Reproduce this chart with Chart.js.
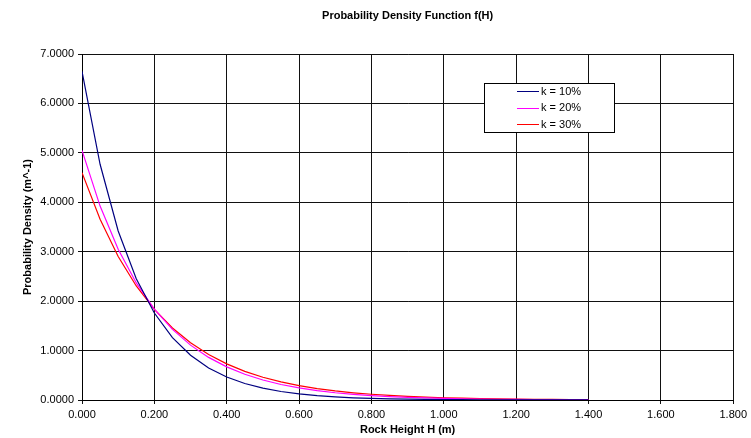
<!DOCTYPE html>
<html>
<head>
<meta charset="utf-8">
<script src="https://cdn.jsdelivr.net/npm/chart.js@4.4.1/dist/chart.umd.min.js"></script>
<style>
  html, body { margin: 0; padding: 0; background: #fff; }
  #wrap { width: 751px; height: 438px; position: relative; }
</style>
</head>
<body>
<div id="wrap"><canvas id="c" width="751" height="438"></canvas></div>
<script>
// Rock height H (m), sampled every 0.05 m
const heights = [0.00,0.05,0.10,0.15,0.20,0.25,0.30,0.35,0.40,0.45,0.50,0.55,0.60,0.65,0.70,
                 0.75,0.80,0.85,0.90,0.95,1.00,1.05,1.10,1.15,1.20,1.25,1.30,1.35,1.40];
// Probability density (m^-1)
const k10 = [6.650,4.769,3.420,2.453,1.759,1.261,0.905,0.649,0.465,0.334,0.239,0.172,0.123,0.088,0.063,
             0.045,0.033,0.023,0.017,0.012,0.009,0.006,0.004,0.003,0.002,0.0016,0.0012,0.0008,0.0006];
const k20 = [5.050,3.923,3.048,2.368,1.839,1.429,1.110,0.862,0.670,0.520,0.404,0.314,0.244,0.190,0.147,
             0.114,0.089,0.069,0.054,0.042,0.032,0.025,0.020,0.015,0.012,0.009,0.007,0.005,0.004];
const k30 = [4.600,3.655,2.904,2.307,1.833,1.457,1.157,0.920,0.731,0.580,0.461,0.366,0.291,0.231,0.184,
             0.146,0.116,0.092,0.073,0.058,0.046,0.037,0.029,0.023,0.018,0.015,0.012,0.009,0.007];
const seriesLabels = ['k = 10%', 'k = 20%', 'k = 30%'];
const seriesColors = ['#000080', '#FF00FF', '#FF0000'];
const xTickMin = 0, xTickMax = 1.8, xTickStep = 0.2;
const yTickMin = 0, yTickMax = 7, yTickStep = 1;

const FONT = "'Liberation Sans', Arial, Helvetica, sans-serif";

function toPoints(ys) { return heights.map((h, i) => ({ x: h, y: ys[i] })); }

const boxLegend = {
  id: 'boxLegend',
  afterDraw(chart) {
    const ctx = chart.ctx;
    const x0 = 484, y0 = 83, w = 130, h = 49;
    ctx.save();
    ctx.fillStyle = '#fff';
    ctx.fillRect(x0, y0, w, h);
    ctx.strokeStyle = '#000';
    ctx.lineWidth = 1;
    ctx.strokeRect(x0 + 0.5, y0 + 0.5, w, h);
    ctx.font = '11px ' + FONT;
    ctx.textBaseline = 'middle';
    ctx.textAlign = 'left';
    chart.data.datasets.forEach((ds, i) => {
      const yy = y0 + 8 + i * 16.7;
      ctx.strokeStyle = ds.borderColor;
      ctx.lineWidth = 1;
      ctx.beginPath();
      ctx.moveTo(517, Math.round(yy) + 0.5);
      ctx.lineTo(539, Math.round(yy) + 0.5);
      ctx.stroke();
      ctx.fillStyle = '#000';
      ctx.fillText(ds.label, 541, yy + 0.5);
    });
    ctx.restore();
  }
};

new Chart(document.getElementById('c'), {
  type: 'line',
  data: {
    datasets: [k10, k20, k30].map((d, i) => ({
      label: seriesLabels[i],
      data: toPoints(d),
      borderColor: seriesColors[i],
      backgroundColor: seriesColors[i],
      borderWidth: 1.2,
      pointRadius: 0,
      tension: 0,
      fill: false
    }))
  },
  options: {
    responsive: false,
    animation: false,
    devicePixelRatio: 1,
    layout: { padding: { left: 0, right: 17, top: 0, bottom: 0 } },
    plugins: {
      legend: { display: false },
      tooltip: { enabled: false },
      title: {
        display: true,
        fullSize: false,
        text: 'Probability Density Function f(H)',
        color: '#000',
        font: { family: FONT, size: 11, weight: 'bold', lineHeight: 1.2 },
        padding: { top: 9.4, bottom: 31.4 }
      }
    },
    scales: {
      x: {
        type: 'linear',
        min: xTickMin, max: xTickMax,
        afterFit(s) { s.height = 38; },
        ticks: {
          stepSize: xTickStep,
          color: '#000',
          font: { family: FONT, size: 11 },
          padding: 4,
          maxRotation: 0,
          callback: v => Number(v).toFixed(3)
        },
        grid: { color: '#111', lineWidth: 1, tickLength: 4, drawTicks: true },
        border: { color: '#000', width: 1 },
        title: {
          display: true,
          text: 'Rock Height H (m)',
          color: '#000',
          font: { family: FONT, size: 11, weight: 'bold', lineHeight: 1.2 },
          padding: { top: 0, bottom: 1.4 }
        }
      },
      y: {
        type: 'linear',
        min: yTickMin, max: yTickMax,
        afterFit(s) { s.width = 82; },
        ticks: {
          stepSize: yTickStep,
          color: '#000',
          font: { family: FONT, size: 11 },
          padding: 4,
          callback: v => Number(v).toFixed(4)
        },
        grid: { color: '#111', lineWidth: 1, tickLength: 4 },
        border: { color: '#000', width: 1 },
        title: {
          display: true,
          text: 'Probability Density (m^-1)',
          color: '#000',
          font: { family: FONT, size: 11, weight: 'bold', lineHeight: 1.2 },
          padding: { top: 21.4, bottom: 0 }
        }
      }
    }
  },
  plugins: [boxLegend]
});
</script>
</body>
</html>
